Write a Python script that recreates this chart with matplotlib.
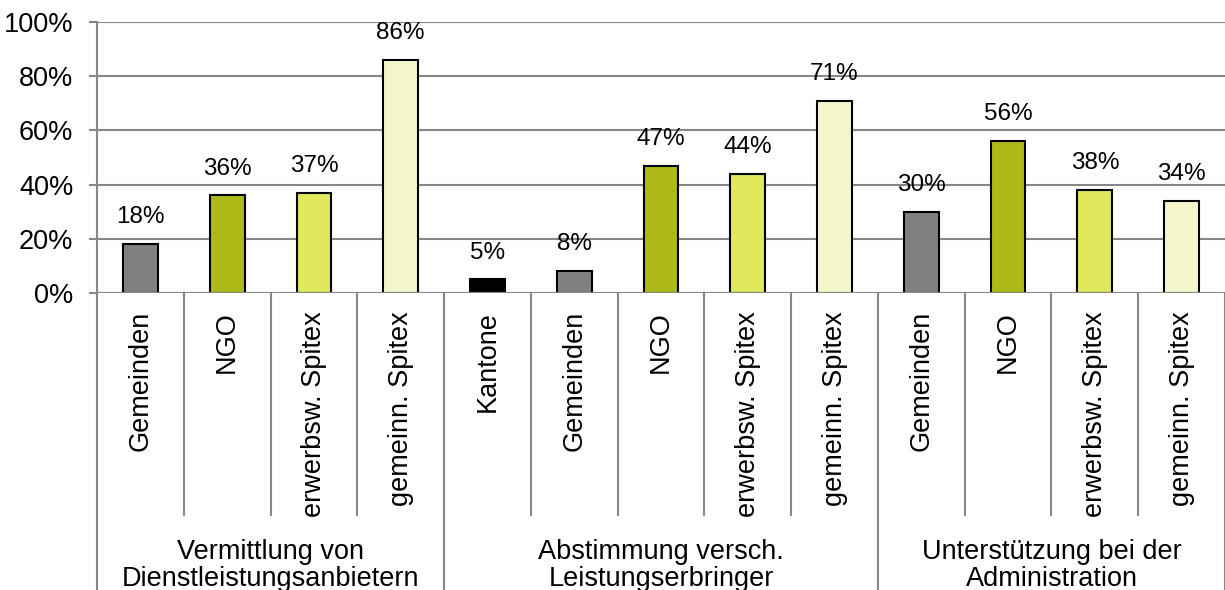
import matplotlib
matplotlib.use('Agg')
import matplotlib.pyplot as plt
import matplotlib.transforms as mtransforms

plt.rcParams['font.family'] = ['Liberation Sans', 'DejaVu Sans']

groups = ["Vermittlung von\nDienstleistungsanbietern",
          "Abstimmung versch.\nLeistungserbringer",
          "Unterstützung bei der\nAdministration"]
group_members = [
    ["Gemeinden", "NGO", "erwerbsw. Spitex", "gemeinn. Spitex"],
    ["Kantone", "Gemeinden", "NGO", "erwerbsw. Spitex", "gemeinn. Spitex"],
    ["Gemeinden", "NGO", "erwerbsw. Spitex", "gemeinn. Spitex"],
]
values = [18, 36, 37, 86,
          5, 8, 47, 44, 71,
          30, 56, 38, 34]

colors = {"Kantone": "#000000", "Gemeinden": "#808080", "NGO": "#AEBA1A",
          "erwerbsw. Spitex": "#E0E85C", "gemeinn. Spitex": "#F4F6C9"}
grid_col = "#878787"

labels = [m for g in group_members for m in g]
x = list(range(len(labels)))

fig = plt.figure(figsize=(12.25, 5.9), dpi=100)
W, H = 1225, 590
ax = fig.add_axes([97 / W, 1 - 293 / H, 1128 / W, 271 / H])

ax.bar(x, values, width=0.4, color=[colors[l] for l in labels],
       edgecolor="black", linewidth=1.5, zorder=3)
for xi, v in zip(x, values):
    ax.annotate("{}%".format(v), (xi, v), xytext=(0, 15), textcoords="offset points",
                ha="center", va="baseline", fontsize=17.5)

ax.set_xlim(-0.5, len(labels) - 0.5)
ax.set_ylim(0, 100)
ax.set_yticks(range(0, 101, 20))
ax.set_yticklabels(["{}%".format(t) for t in range(0, 101, 20)], fontsize=19.5)
ax.tick_params(axis="y", length=6, width=1.5, color=grid_col, pad=11)
ax.set_xticks([])
ax.grid(axis="y", color=grid_col, linewidth=1.5, zorder=0)
for s in ["top", "right", "bottom"]:
    ax.spines[s].set_visible(False)
ax.spines["left"].set_color(grid_col)
ax.spines["left"].set_linewidth(1.5)
ax.axhline(0, color=grid_col, linewidth=1.5, zorder=4)

# category axis below the plot
trans = mtransforms.blended_transform_factory(ax.transData, ax.transAxes)
sub_bottom = (293 - 515) / 271
grp_bottom = (293 - 600) / 271
group_edges = [-0.5]
for g in group_members:
    group_edges.append(group_edges[-1] + len(g))
for b in range(len(labels) + 1):
    bx = b - 0.5
    low = grp_bottom if bx in group_edges else sub_bottom
    ax.plot([bx, bx], [0, low], transform=trans, color=grid_col,
            linewidth=1.5, clip_on=False)

for xi, lab in zip(x, labels):
    ax.text(xi, -18 / 271, lab, transform=trans, rotation=90,
            ha="center", va="top", fontsize=19.5)

for i, g in enumerate(groups):
    cx = (group_edges[i] + group_edges[i + 1]) / 2
    ax.text(cx, (293 - 539) / 271, g, transform=trans, ha="center", va="top",
            fontsize=19.5, linespacing=1.06)

fig.savefig("out.png", dpi=100)
